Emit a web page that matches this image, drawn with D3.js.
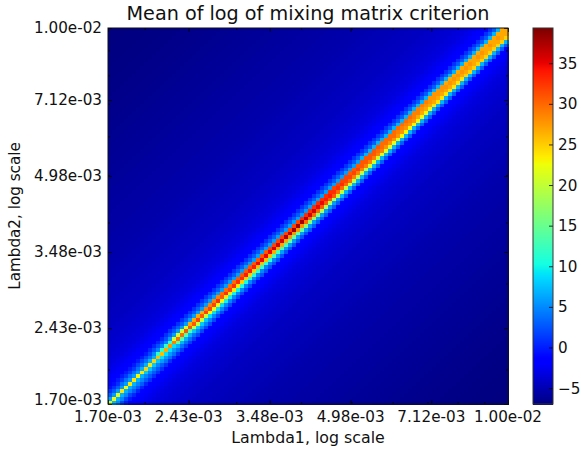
<!DOCTYPE html>
<html><head><meta charset="utf-8">
<script src="https://cdn.jsdelivr.net/npm/d3@7/dist/d3.min.js"></script>
<style>html,body{margin:0;padding:0;background:#fff}svg{display:block}text{font-family:"DejaVu Sans";fill:#111}</style>
</head><body><svg id="c" width="581" height="451"></svg>
<script>
const titleText="Mean of log of mixing matrix criterion";
const xLabel="Lambda1, log scale", yLabel="Lambda2, log scale";
const majorTicks=[1.70e-3,2.43e-3,3.48e-3,4.98e-3,7.12e-3,1.00e-2];
const minorTicks=[2e-3,3e-3,4e-3,5e-3,6e-3,7e-3,8e-3,9e-3];
const barTicks=[-5,0,5,10,15,20,25,30,35];
const valueRange=[-6.9,39.4];
const nCells=100;
// main diagonal, one value per cell, bottom-left to top-right
const diagonal=[20,23,22,24,23,24,24,23,24,25,24,25,26,26,27,28,29,30,30,31,
31,31,32,31,32,32,32,33,31,33,32,33,33,33,34,34,34,35,35,35,
35,36,36,36,37,37,38,38,38,37,36,36,35,35,34,34,33,33,33,32,
32,32,32,31,31,31,31,30,30,30,30,30,29,29,29,29,29,29,28,28,
28,28,28,28,28,28,28,28,28,28,28,27,28,28,27,28,27,28,27,27];
// side bands, one value per four cells along the diagonal
const bandM1=[6,6,7,12,21,27,29,30,31,31,32,32,33,33,32,31,31,30,30,29,28,27,27,27,27];
const bandP1=[7,7,8,9,14,20,23,24,25,26,27,28,30,31,30,29,29,28,28,27,27,27,27,27,27];
const bandM2=[3,4,4,5,6,6,6,6,6,6,6,6,6,6,6,6,7,7,7,7,7,7,7,7,7];
const bandP2=[5,5,5,6,7,8,9,10,11,12,13,15,17,19,20,20,21,22,23,23,24,24,25,25,25];
const bandM3=[1,1.5,2,2.5,3,3,3,3,3,3,3,3,3,3,3,3,3,3,3,3,3,3,3,3,3];
const bandP3=[2,3,3,4,4,5,5,5,5,5,6,6,6,6,7,7,7,7,7,7,7,7,7,7,7];
const bandM4=[-0.5,0,0,0.5,1,1,1,1,1,1,1,1,1,1,1,1,1,1,1,1,1,1,1,1,1];
const bandP4=[0,0.5,1,1,1.5,2,2,2,2,2.5,2.5,2.5,3,3,3,3,3,3,3,3,3,3,3,3,3];
// background level by distance from the diagonal (index = |offset|)
const falloff=[0,0,0,0,0,-1,-1.6,-2,-2.4,-2.7,-3,-3.2,-3.3,-3.5,-3.6,-3.7,-3.8,-3.9,-4,-4.1,
-4.2,-4.3,-4.3,-4.4,-4.4,-4.5,-4.5,-4.6,-4.6,-4.7,-4.7,-4.8,-4.8,-4.9,-4.9,-5,-5,-5.1,-5.1,-5.2,
-5.2,-5.2,-5.3,-5.3,-5.3,-5.4,-5.4,-5.4,-5.5,-5.5,-5.5,-5.6,-5.6,-5.6,-5.7,-5.7,-5.7,-5.8,-5.8,-5.8,
-5.9,-5.9,-5.9,-6,-6,-6,-6.1,-6.1,-6.1,-6.2,-6.2,-6.2,-6.3,-6.3,-6.3,-6.4,-6.4,-6.4,-6.5,-6.5,
-6.5,-6.5,-6.6,-6.6,-6.6,-6.6,-6.7,-6.7,-6.7,-6.7,-6.8,-6.8,-6.8,-6.8,-6.8,-6.9,-6.9,-6.9,-6.9,-6.9];

const bands={"-4":bandM4,"-3":bandM3,"-2":bandM2,"-1":bandM1,"1":bandP1,"2":bandP2,"3":bandP3,"4":bandP4};
const cellValue=(i,j)=>{const k=i-j;if(k===0)return diagonal[i];
  const b=bands[k];if(b)return b[Math.floor(((i+j)/2)/4)];return falloff[Math.abs(k)];};

const L=108,R=508,T=28,B=404,BL=533,BR=553;
const x=d3.scaleLog().domain([1.7e-3,1e-2]).range([L,R]);
const y=d3.scaleLog().domain([1.7e-3,1e-2]).range([B,T]);
const lam=d3.scaleLinear().domain([0,nCells]).range([0,1]);
const edgeVal=i=>1.7e-3*Math.pow(1e-2/1.7e-3,lam(i));

const chan=(d,r)=>d3.scaleLinear().domain(d).range(r);
const rC=chan([0,.35,.66,.89,1],[0,0,1,1,.5]),
      gC=chan([0,.125,.375,.64,.91,1],[0,0,1,1,0,0]),
      bC=chan([0,.11,.34,.65,1],[.5,1,1,0,0]);
const norm=d3.scaleLinear().domain(valueRange).range([0,1]).clamp(true);
const jet=v=>{const t=norm(v);return d3.rgb(rC(t)*255,gC(t)*255,bC(t)*255).formatHex();};

const svg=d3.select("#c");
const cells=[];for(let j=0;j<nCells;j++)for(let i=0;i<nCells;i++)cells.push([i,j]);
svg.append("g").attr("shape-rendering","crispEdges").selectAll("rect").data(cells).join("rect")
 .attr("x",d=>x(edgeVal(d[0]))).attr("y",d=>y(edgeVal(d[1]+1)))
 .attr("width",d=>x(edgeVal(d[0]+1))-x(edgeVal(d[0]))+.5)
 .attr("height",d=>y(edgeVal(d[1]))-y(edgeVal(d[1]+1))+.5)
 .attr("fill",d=>jet(cellValue(d[0],d[1])));

function ax(gen,tx,ty,vals,size){
  const g=svg.append("g").attr("transform",`translate(${tx},${ty})`)
   .call(gen.tickValues(vals).tickSize(size).tickFormat(""));
  g.select(".domain").remove();
  g.selectAll("line").attr("stroke","#000").attr("stroke-width",.8);
}
const fmt=v=>v.toExponential(2).replace(/e([+-])(\d)$/,"e$10$2");
// inward ticks on every side
for(const [vals,size] of [[minorTicks,2],[majorTicks,4]]){
  ax(d3.axisTop(x),0,B,vals,size);
  ax(d3.axisBottom(x),0,T,vals,size);
  ax(d3.axisRight(y),L,0,vals,size);
  ax(d3.axisLeft(y),R,0,vals,size);
}
svg.append("rect").attr("x",L).attr("y",T).attr("width",R-L).attr("height",B-T)
 .attr("fill","none").attr("stroke","#111").attr("stroke-width",1);

const tickFont="15.2px";
svg.append("g").selectAll("text").data(majorTicks).join("text")
 .attr("x",d=>x(d)).attr("y",B+18).attr("text-anchor","middle").style("font-size",tickFont).text(fmt);
svg.append("g").selectAll("text").data(majorTicks).join("text")
 .attr("x",L-6).attr("y",d=>y(d)+(d===majorTicks[0]?1:5)).attr("text-anchor","end").style("font-size",tickFont).text(fmt);

svg.append("text").attr("x",308).attr("y",20).attr("text-anchor","middle").style("font-size","19.2px").text(titleText);
svg.append("text").attr("x",308).attr("y",443).attr("text-anchor","middle").style("font-size","15.8px").text(xLabel);
svg.append("text").attr("transform",`translate(20,216) rotate(-90)`).attr("text-anchor","middle").style("font-size","15.2px").text(yLabel);

// colorbar
const by=d3.scaleLinear().domain(valueRange).range([B,T]);
const levels=d3.range(0,B-T).map(p=>by.invert(B-p-.5));
svg.append("g").attr("shape-rendering","crispEdges").selectAll("rect").data(levels).join("rect")
 .attr("x",BL).attr("width",BR-BL).attr("y",d=>by(d)-.5).attr("height",1.5).attr("fill",jet);
svg.append("g").selectAll("line").data(barTicks).join("line")
 .attr("x1",BR-4).attr("x2",BR).attr("y1",by).attr("y2",by).attr("stroke","#000").attr("stroke-width",.8);
svg.append("rect").attr("x",BL).attr("y",T).attr("width",BR-BL).attr("height",B-T)
 .attr("fill","none").attr("stroke","#333").attr("stroke-width",1);
svg.append("g").selectAll("text").data(barTicks).join("text")
 .attr("x",BR+5).attr("y",d=>by(d)+5).style("font-size",tickFont)
 .text(d=>d<0?"\u2212"+Math.abs(d):d);
</script></body></html>
